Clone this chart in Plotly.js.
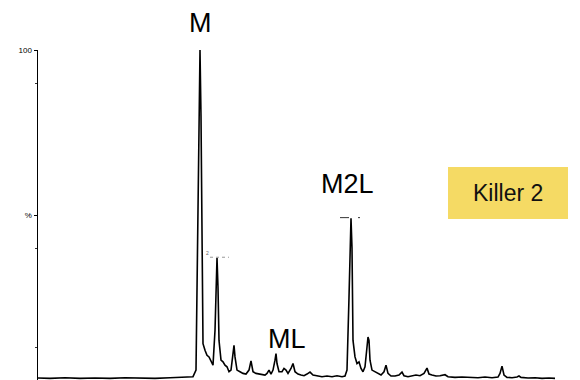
<!DOCTYPE html>
<html>
<head>
<meta charset="utf-8">
<script src="https://cdn.plot.ly/plotly-3.0.1.min.js"></script>
<style>html,body{margin:0;padding:0;background:#fff;}#chart{width:580px;height:380px;}</style>
</head>
<body>
<div id="chart"></div>
<script>
// Spectrum trace (x: position along scan, y: relative intensity %)
const scanX = [0,12,27,42,57,72,87,102,117,132,147,155,158,160,162,163,164,165,167,169,171,173,175,177,179,180,181,183,185,187,189,191,193,195,196,197,199,202,205,208,211,213,215,218,221,224,227,229,231,233,235,237,238,239,241,244,246,248,250,253,255,257,260,263,266,269,272,275,279,284,289,294,299,304,307,309,311,313,314,315,317,319,321,323,325,327,329,330,331,332,334,337,340,343,346,348,350,353,357,361,364,366,370,374,378,382,386,389,391,394,398,402,407,410,417,424,432,440,447,454,460,462,464,466,469,474,479,481,483,490,497,504,511,517];
const intensity = [0.6,0.5,0.7,0.5,0.6,0.5,0.7,0.6,0.5,0.7,0.8,1.0,3,50,100,80,30,11,9,7.5,7,5.5,4.5,15,37,28,12,6,5.5,4.5,4,2.5,3,8,10.5,7,3,2.5,2,1.8,3,5.8,2.5,2,1.8,1.5,1.5,2,3,1.8,3,6,8,5,2.5,2.5,3.5,3,2,3.5,5,2.5,1.8,1.5,1.3,1.8,2.4,1.5,1.2,1.0,1.2,1.0,1.3,1.0,1.2,3,25,49,40,12,7,5,5.5,3.5,2.5,4,10,13,12,6,3,2.5,1.8,1.5,2.5,4.5,2,1.2,1.2,1.5,2.4,1.3,1.0,1.2,1.5,1.3,2,3.6,1.8,1.5,1.2,1.3,1.6,1.0,0.8,0.9,0.8,0.7,0.9,0.7,0.9,2,4.2,1.5,0.8,0.7,0.9,1.2,0.8,0.6,0.7,0.5,0.6,0.5];

const tickVals = [0, 50, 100];
const tickText = ['', '%', '100'];

const peakLabels = ['M', 'ML', 'M2L'];
const peakLabelX = [162, 249, 309];
const peakLabelY = [1.082, 0.125, 0.595]; // paper fraction of plot height

const boxText = 'Killer 2';

const trace = {
  x: scanX, y: intensity, type: 'scatter', mode: 'lines',
  line: {color: '#000', width: 1.6, shape: 'linear'},
  hoverinfo: 'skip', cliponaxis: false
};

const annotations = peakLabels.map((t, i) => ({
  x: peakLabelX[i], y: peakLabelY[i], xref: 'x', yref: 'paper', text: t,
  showarrow: false, xanchor: 'center', yanchor: 'middle',
  font: {family: 'Liberation Sans, Arial, sans-serif', size: 27, color: '#000'}
}));
annotations.push({
  x: 0.887, y: 0.567, xref: 'paper', yref: 'paper', text: boxText,
  showarrow: false, xanchor: 'center', yanchor: 'middle',
  font: {family: 'Liberation Sans, Arial, sans-serif', size: 23, color: '#111'}
});
annotations.push({
  x: 169.5, y: 38.5, xref: 'x', yref: 'y', text: '2', showarrow: false,
  font: {family: 'Liberation Sans, Arial, sans-serif', size: 5, color: '#666'}
});

const layout = {
  width: 580, height: 380,
  margin: {l: 38, r: 12, t: 50, b: 0, pad: 0},
  paper_bgcolor: '#fff', plot_bgcolor: '#fff',
  showlegend: false,
  xaxis: {range: [0, 530], visible: false, fixedrange: true},
  yaxis: {
    range: [0, 100], showline: true, linecolor: '#000', linewidth: 1.5,
    showgrid: false, zeroline: false,
    tickmode: 'array', tickvals: tickVals, ticktext: tickText,
    ticks: 'outside', ticklen: 3, tickwidth: 1, tickcolor: '#000',
    tickfont: {family: 'Liberation Sans, Arial, sans-serif', size: 8, color: '#000'},
    minor: {tickvals: [10, 40, 90], ticks: 'outside', ticklen: 2, tickwidth: 1, tickcolor: '#333'},
    fixedrange: true
  },
  shapes: [
    {type: 'rect', xref: 'paper', yref: 'paper', x0: 0.7736, x1: 1.0, y0: 0.4879, y1: 0.6455,
     fillcolor: '#F5DA64', line: {width: 0}, layer: 'below'},
    {type: 'line', xref: 'x', yref: 'y', x0: 172, x1: 191, y0: 37.2, y1: 37.2,
     line: {color: '#999', width: 1, dash: 'dot'}},
    {type: 'line', xref: 'x', yref: 'y', x0: 302, x1: 322, y0: 49.2, y1: 49.2,
     line: {color: '#333', width: 1, dash: 'dash'}}
  ],
  annotations: annotations
};

Plotly.newPlot('chart', [trace], layout, {staticPlot: true, displayModeBar: false});
</script>
</body>
</html>
